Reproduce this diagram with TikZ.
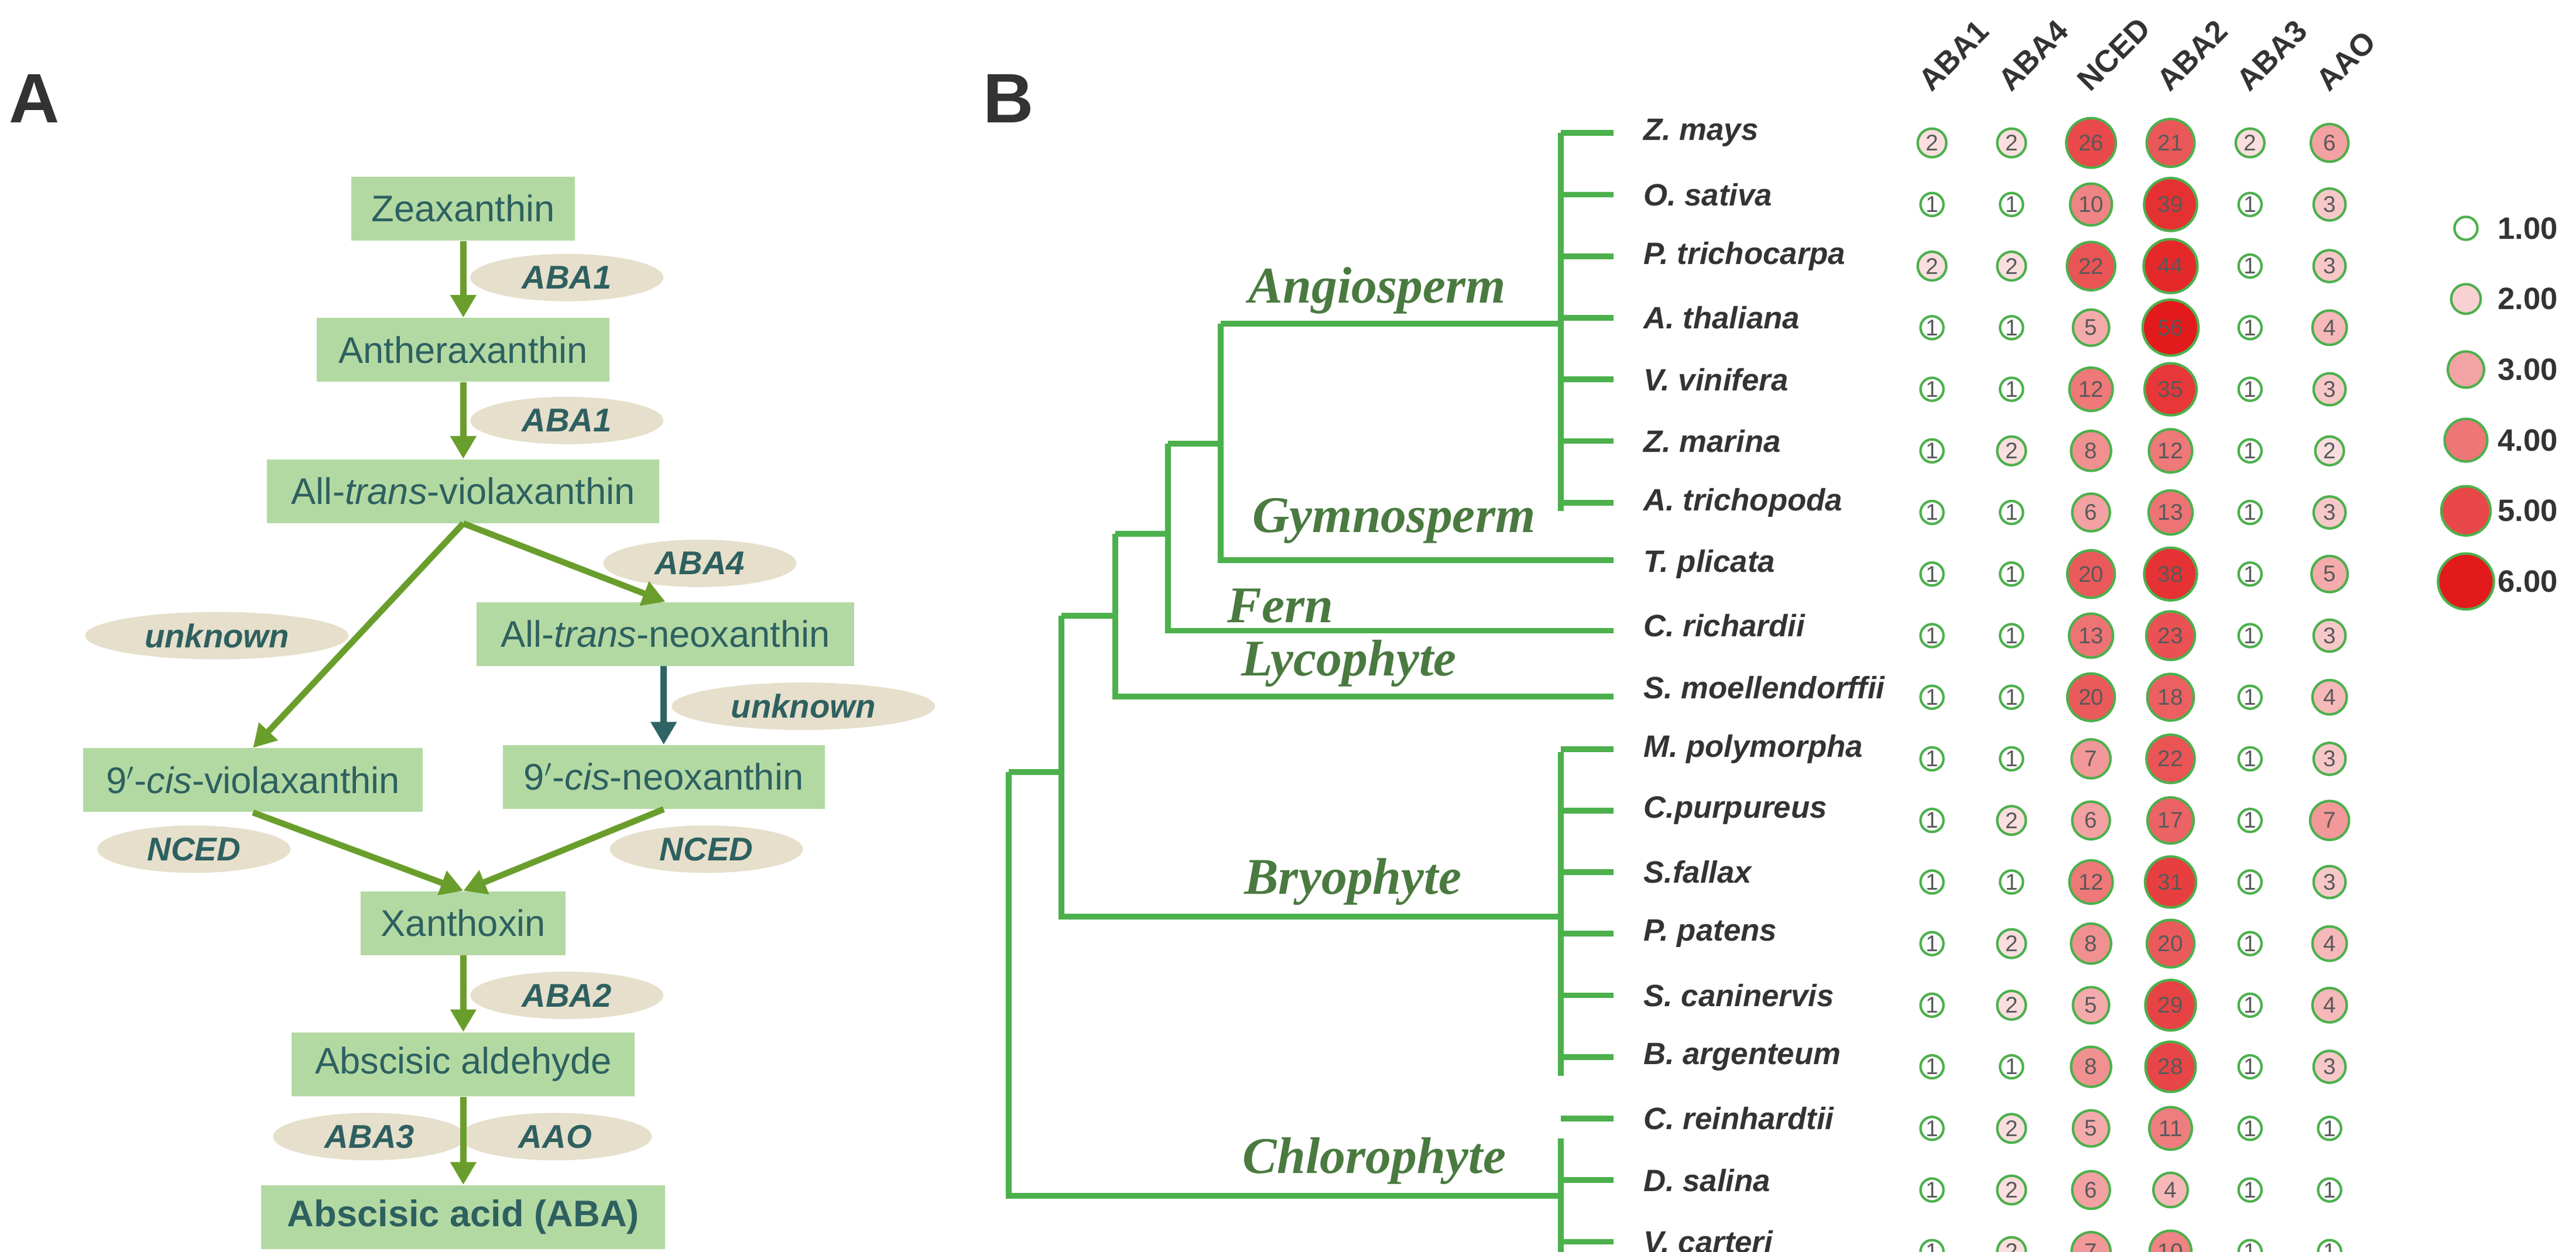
\documentclass[tikz,border=0pt]{standalone}
\usepackage{fontspec}
\setmainfont{Liberation Sans}
\newfontfamily\clfont{Liberation Serif}
\usetikzlibrary{arrows.meta,shapes.geometric}
\definecolor{boxg}{HTML}{B3D9A3}
\definecolor{txt}{HTML}{2E6060}
\definecolor{ell}{HTML}{E6DFCB}
\definecolor{arr}{HTML}{6A9E2C}
\definecolor{teal}{HTML}{2F6464}
\definecolor{tree}{HTML}{4CB04C}
\definecolor{clade}{HTML}{4A7A40}
\definecolor{hot}{HTML}{E31A1C}
\tikzset{
  met/.style={fill=boxg, text=txt, inner sep=0pt, minimum height=1.09cm, font=\fontsize{18}{20}\selectfont},
  enz/.style={ellipse, fill=ell, text=txt, inner sep=0pt, minimum height=0.81cm, minimum width=3.3cm, font=\bfseries\itshape\fontsize{16}{18}\selectfont},
  conv/.style={arr, line width=3pt, -{Triangle[length=11pt,width=12pt]}},
  br/.style={tree, line width=2.8pt},
  sp/.style={anchor=west, font=\bfseries\itshape\fontsize{15}{17}\selectfont, text=black!80},
  cl/.style={anchor=east, font=\clfont\bfseries\itshape\fontsize{25}{28}\selectfont, text=clade},
  hd/.style={rotate=45, anchor=west, font=\bfseries\fontsize{15}{17}\selectfont, text=black!80},
  dot/.style={circle, draw=tree, line width=1.2pt, inner sep=0pt, text=black!65, font=\fontsize{11}{12}\selectfont}
}
\begin{document}
\begin{tikzpicture}[x=0.02806cm, y=-0.02806cm]
\useasboundingbox (0,0) rectangle (1568,762);
\node[font=\bfseries\fontsize{34}{36}\selectfont, text=black!80] (la) at (21,60) {A};
\node[font=\bfseries\fontsize{34}{36}\selectfont, text=black!80] (lb) at (614,60) {B};
% panel A
\node[met, minimum width=3.82cm] (zea) at (282,127) {Zeaxanthin};
\node[met, minimum width=5.0cm] (ant) at (282,213) {Antheraxanthin};
\node[met, minimum width=6.7cm] (vio) at (282,299) {All-\textit{trans}-violaxanthin};
\node[met, minimum width=6.45cm] (neo) at (405,386) {All-\textit{trans}-neoxanthin};
\node[met, minimum width=5.8cm] (cvio) at (154,475) {9$'$-\textit{cis}-violaxanthin};
\node[met, minimum width=5.5cm] (cneo) at (404,473) {9$'$-\textit{cis}-neoxanthin};
\node[met, minimum width=3.5cm] (xan) at (282,562) {Xanthoxin};
\node[met, minimum width=5.86cm] (ald) at (282,648) {Abscisic aldehyde};
\node[met, minimum width=6.9cm, font=\bfseries\fontsize{18}{20}\selectfont] (aba) at (282,741) {Abscisic acid (ABA)};
\node[enz] (e1) at (345,169) {ABA1};
\node[enz] (e2) at (345,256) {ABA1};
\node[enz] (e3) at (426,343) {ABA4};
\node[enz, minimum width=4.5cm] (e4) at (132,387) {unknown};
\node[enz, minimum width=4.5cm] (e5) at (489,430) {unknown};
\node[enz] (e6) at (118,517) {NCED};
\node[enz] (e7) at (430,517) {NCED};
\node[enz] (e8) at (345,606) {ABA2};
\node[enz] (e9) at (225,692) {ABA3};
\node[enz] (e10) at (338,692) {AAO};
\draw[conv] (zea) -- (ant);
\draw[conv] (ant) -- (vio);
\draw[conv] (vio.south) -- (cvio.north);
\draw[conv] (vio.south) -- (neo.north);
\draw[conv, teal] (neo.south -| cneo) -- (cneo);
\draw[conv] (cvio.south) -- (xan.north);
\draw[conv] (cneo.south) -- (xan.north);
\draw[conv] (xan) -- (ald);
\draw[conv] (ald) -- (aba);
% panel B tree
\draw[br] (950,81) -- (950,311);
\draw[br] (743,197) -- (950,197);
\draw[br] (743,197) -- (743,341) -- (982,341);
\draw[br] (711,270) -- (743,270);
\draw[br] (711,270) -- (711,384) -- (982,384);
\draw[br] (679,325) -- (711,325);
\draw[br] (679,325) -- (679,424) -- (982,424);
\draw[br] (646,375) -- (679,375);
\draw[br] (646,375) -- (646,558) -- (950,558);
\draw[br] (950,458) -- (950,655);
\draw[br] (614,470) -- (646,470);
\draw[br] (614,470) -- (614,728) -- (950,728);
\draw[br] (950,693) -- (950,770);
\foreach \r in {0,...,6,10,11,...,18}
  \draw[br] (950,81+37.5*\r) -- (982,81+37.5*\r);
\node[cl] (angio) at (921,177) {Angiosperm};
\node[cl] (gymno) at (939,317) {Gymnosperm};
\node[cl] (fern) at (816,369) {Fern};
\node[cl] (lyco) at (891,404) {Lycophyte};
\node[cl] (bryo) at (894,537) {Bryophyte};
\node[cl] (chloro) at (921,707) {Chlorophyte};
% gene columns
\foreach \g [count=\j] in {ABA1,ABA4,NCED,ABA2,ABA3,AAO}
  \node[hd] (h\j) at (1168+48.4*\j-48.4,55) {\g};
% species and counts
\foreach \nm/\a/\b/\c/\d/\e/\f [count=\i from 0] in {
  Z. mays/2/2/26/21/2/6, O. sativa/1/1/10/39/1/3, P. trichocarpa/2/2/22/44/1/3,
  A. thaliana/1/1/5/56/1/4, V. vinifera/1/1/12/35/1/3, Z. marina/1/2/8/12/1/2,
  A. trichopoda/1/1/6/13/1/3, T. plicata/1/1/20/38/1/5, C. richardii/1/1/13/23/1/3,
  S. moellendorffii/1/1/20/18/1/4, M. polymorpha/1/1/7/22/1/3, C.purpureus/1/2/6/17/1/7,
  S.fallax/1/1/12/31/1/3, P. patens/1/2/8/20/1/4, S. caninervis/1/2/5/29/1/4,
  B. argenteum/1/1/8/28/1/3, C. reinhardtii/1/2/5/11/1/1, D. salina/1/2/6/4/1/1,
  V. carteri/1/2/7/10/1/1}{
  \node[sp] (sp\i) at (996,81+37.5*\i) {\nm};
  \foreach \v [count=\j] in {\a,\b,\c,\d,\e,\f}{
    \pgfmathsetmacro\lv{ln(\v)/4.025}
    \pgfmathsetmacro\rad{7+10*\lv}
    \pgfmathsetmacro\pc{100*\lv^1.1}
    \node[dot, minimum size=2*\rad*0.02806cm, fill=hot!\pc!white] (c\i-\j)
      at (1176+48.4*\j-48.4,87+37.5*\i) {\v};
  }
}
% legend
\foreach \k/\y [count=\n from 0] in {1.00/139,2.00/182,3.00/225,4.00/268,5.00/311,6.00/354}{
  \pgfmathsetmacro\rad{7+2*\n}
  \pgfmathsetmacro\pc{20*\n}
  \node[dot, minimum size=2*\rad*0.02806cm, fill=hot!\pc!white] (lg\n) at (1501,\y) {};
  \node[anchor=west, font=\bfseries\fontsize{15}{17}\selectfont, text=black!80] (lt\n) at (1516,\y) {\k};
}
\end{tikzpicture}
\end{document}
